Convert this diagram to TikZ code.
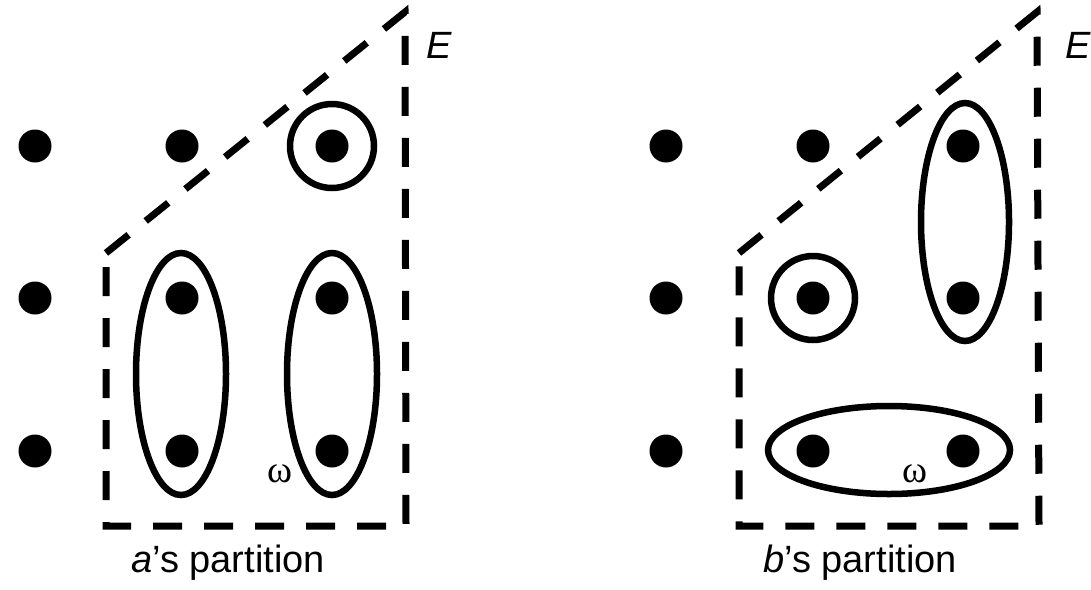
\documentclass[tikz,border=0pt]{standalone}
\usepackage{fontspec}
\setmainfont{Liberation Sans}
\newfontfamily\omegafont{Liberation Serif}
\usetikzlibrary{shapes.geometric}
\tikzset{
  pt/.style={circle,fill=black,inner sep=0pt,minimum size=33pt},
  grp/.style={ellipse,draw=black,line width=6.5pt,inner sep=0pt},
  ring/.style={circle,draw=black,line width=6.5pt,inner sep=0pt,minimum size=84pt},
  region/.style={draw=black,line width=7pt,dash pattern=on 29pt off 22pt,line join=miter},
  lbl/.style={font=\fontsize{38}{40}\selectfont},
  om/.style={font=\omegafont\fontsize{38}{40}\selectfont},
}
\begin{document}
\begin{tikzpicture}[x=1pt,y=-1pt]
  \useasboundingbox (0,0) rectangle (1091,589);
  % points of both panels
  \foreach \p/\ox in {a/0,b/631} {
    \foreach \c/\cx in {1/35,2/182,3/332} {
      \foreach \r/\ry in {1/146,2/298,3/451} {
        \node[pt] (\p-\c-\r) at (\cx+\ox,\ry) {};
      }
    }
  }
  % a's partition
  \draw[region] (106,253) -- (405,12) -- (406,526) -- (106,526) -- cycle;
  \node[ring] (a-top) at (a-3-1) {};
  \node[grp,minimum width=90pt,minimum height=242pt] (a-left) at (181,374) {};
  \node[grp,minimum width=90pt,minimum height=242pt] (a-right) at (332,374) {};
  \node[om] (a-om) at (280,474) {ω};
  \node[lbl,font=\fontsize{38}{40}\selectfont\itshape] (a-E) at (439,45) {E};
  \node[lbl] (a-cap) at (228,563) {\textit{a}’s partition};
  % b's partition
  \draw[region] (739,253) -- (1037,12) -- (1039,526) -- (739,526) -- cycle;
  \node[ring] (b-mid) at (b-2-2) {};
  \node[grp,minimum width=88pt,minimum height=238pt] (b-right) at (965,222) {};
  \node[grp,minimum width=242pt,minimum height=88pt] (b-low) at (889,450) {};
  \node[om] (b-om) at (915,474) {ω};
  \node[lbl,font=\fontsize{38}{40}\selectfont\itshape] (b-E) at (1078,45) {E};
  \node[lbl] (b-cap) at (860,563) {\textit{b}’s partition};
\end{tikzpicture}
\end{document}
